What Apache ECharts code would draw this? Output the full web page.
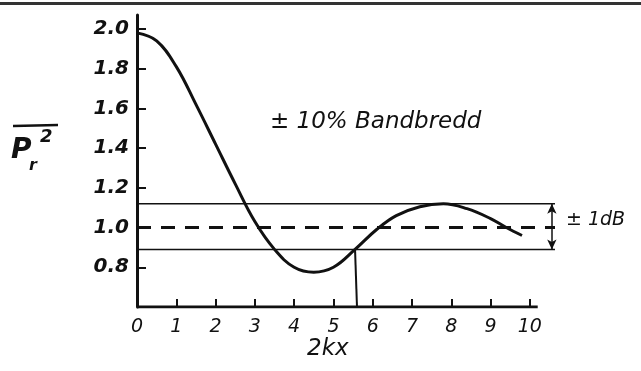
<!DOCTYPE html>
<html>
<head>
<meta charset="utf-8">
<script src="https://cdn.jsdelivr.net/npm/echarts@6/dist/echarts.min.js"></script>
<style>
  html, body { margin: 0; padding: 0; background: #fff; }
  #chart { width: 641px; height: 371px; }
</style>
</head>
<body>
<div id="chart"></div>
<script>
// curve
const kx = [0, 0.5, 1.0, 1.5, 2.0, 2.5, 3.0, 3.5, 4.0, 4.5, 5.0, 5.55, 6.1, 6.6, 7.2, 7.8, 8.4, 9.0, 9.4, 9.8]
const power = [1.98, 1.94, 1.81, 1.62, 1.42, 1.22, 1.03, 0.89, 0.8, 0.775, 0.8, 0.89, 0.99, 1.06, 1.105, 1.12, 1.095, 1.045, 1.0, 0.96]

const xTicks = [0, 1, 2, 3, 4, 5, 6, 7, 8, 9, 10]
const yTicks = [0.8, 1.0, 1.2, 1.4, 1.6, 1.8, 2.0]

const bandUpper = 1.12
const bandLower = 0.89
const reference = 1.0
const bandEnd = 10.64
const axisEnd = 10.2
const yMin = 0.6
const yMax = 2.07
const dropLine = [[5.55, 0.89], [5.6, 0.6]]
const arrowX = 10.56

const ink = '#111'
const font = 'DejaVu Sans'

const chart = echarts.init(document.getElementById('chart'))

const flat = (y, x0, x1) => [[x0, y], [x1, y]]

const option = {
  animation: false,
  backgroundColor: '#fff',
  grid: { left: 137, top: 15, width: 418, height: 292 },
  xAxis: {
    type: 'value',
    min: 0,
    max: bandEnd,
    splitLine: { show: false },
    axisLine: { show: false },
    axisTick: {
      inside: true,
      length: 8,
      customValues: xTicks,
      lineStyle: { color: ink, width: 2 }
    },
    axisLabel: {
      customValues: xTicks,
      margin: 11,
      color: ink,
      fontSize: 19,
      fontStyle: 'italic',
      fontFamily: font
    }
  },
  yAxis: {
    type: 'value',
    min: yMin,
    max: yMax,
    splitLine: { show: false },
    axisLine: { show: true, lineStyle: { color: ink, width: 3 } },
    axisTick: {
      inside: true,
      length: 9,
      customValues: yTicks,
      lineStyle: { color: ink, width: 2 }
    },
    axisLabel: {
      customValues: yTicks,
      margin: 8,
      color: ink,
      fontSize: 20,
      fontWeight: 'bold',
      fontStyle: 'italic',
      fontFamily: font,
      formatter: (v) => v.toFixed(1)
    }
  },
  series: [
    {
      type: 'line',
      data: flat(yMin, 0, axisEnd),
      symbol: 'none',
      lineStyle: { color: ink, width: 3 }
    },
    {
      type: 'line',
      data: flat(bandUpper, 0, bandEnd),
      symbol: 'none',
      lineStyle: { color: ink, width: 1.5 }
    },
    {
      type: 'line',
      data: flat(bandLower, 0, bandEnd),
      symbol: 'none',
      lineStyle: { color: ink, width: 1.5 },
      markLine: {
        silent: true,
        symbol: ['arrow', 'arrow'],
        symbolSize: [7, 10],
        label: { show: false },
        lineStyle: { color: ink, width: 1.5, type: 'solid' },
        data: [[{ coord: [arrowX, bandUpper] }, { coord: [arrowX, bandLower] }]]
      }
    },
    {
      type: 'line',
      data: flat(reference, 0, bandEnd),
      symbol: 'none',
      lineStyle: { color: ink, width: 3, type: [14, 10] }
    },
    {
      type: 'line',
      data: dropLine,
      symbol: 'none',
      lineStyle: { color: ink, width: 2 }
    },
    {
      type: 'line',
      data: kx.map((x, i) => [x, power[i]]),
      smooth: 0.4,
      symbol: 'none',
      lineStyle: { color: ink, width: 3 }
    }
  ],
  graphic: [
    { type: 'rect', shape: { x: 0, y: 2, width: 641, height: 3 }, style: { fill: '#333' } },
    {
      type: 'text', left: 270, top: 111,
      style: { text: '± 10% Bandbredd', fill: ink, fontSize: 23, fontStyle: 'italic', fontFamily: font }
    },
    {
      type: 'text', left: 566, top: 211,
      style: { text: '± 1dB', fill: ink, fontSize: 19, fontStyle: 'italic', fontFamily: font }
    },
    {
      type: 'text', left: 307, top: 338,
      style: { text: '2kx', fill: ink, fontSize: 23, fontStyle: 'italic', fontFamily: font }
    },
    { type: 'line', shape: { x1: 13, y1: 126, x2: 58, y2: 125 }, style: { stroke: ink, lineWidth: 2.5 } },
    {
      type: 'text', left: 11, top: 137,
      style: { text: 'P', fill: ink, fontSize: 28, fontStyle: 'italic', fontWeight: 'bold', fontFamily: font }
    },
    {
      type: 'text', left: 29, top: 158,
      style: { text: 'r', fill: ink, fontSize: 16, fontStyle: 'italic', fontWeight: 'bold', fontFamily: font }
    },
    {
      type: 'text', left: 40, top: 128,
      style: { text: '2', fill: ink, fontSize: 18, fontStyle: 'italic', fontWeight: 'bold', fontFamily: font }
    }
  ]
}

chart.setOption(option)
</script>
</body>
</html>
